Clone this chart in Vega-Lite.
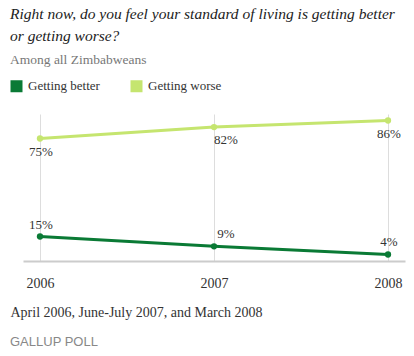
{
  "$schema": "https://vega.github.io/schema/vega-lite/v6.json",
  "padding": {"left": 10, "top": 7, "right": 9, "bottom": 5},
  "config": {"view": {"stroke": null}, "font": "Liberation Serif", "concat": {"spacing": 0}},
  "title": {"text": "GALLUP POLL", "orient": "bottom", "anchor": "start", "frame": "group", "dx": -13, "font": "Liberation Sans", "fontSize": 13, "fontWeight": "normal", "color": "#888", "offset": 17},
  "vconcat": [
    {
      "width": 382,
      "height": 147,
      "title": {
        "text": ["Right now, do you feel your standard of living is getting better", "or getting worse?"],
        "subtitle": "Among all Zimbabweans",
        "anchor": "start",
        "frame": "group",
        "dx": -13,
        "font": "Liberation Serif",
        "fontStyle": "italic",
        "fontSize": 15.5,
        "fontWeight": "normal",
        "color": "#222",
        "lineHeight": 22,
        "subtitleFont": "Liberation Serif",
        "subtitleFontSize": 13.5,
        "subtitleColor": "#777",
        "subtitlePadding": 8,
        "offset": 47.7
      },
      "data": {
        "values": [
          {"year": "2006", "series": "Getting better", "share": 0.15},
          {"year": "2007", "series": "Getting better", "share": 0.09},
          {"year": "2008", "series": "Getting better", "share": 0.04},
          {"year": "2006", "series": "Getting worse", "share": 0.75},
          {"year": "2007", "series": "Getting worse", "share": 0.82},
          {"year": "2008", "series": "Getting worse", "share": 0.86}
        ]
      },
      "encoding": {
        "x": {
          "field": "year",
          "type": "ordinal",
          "scale": {"type": "point", "padding": 0.0977},
          "axis": {
            "title": "April 2006, June-July 2007, and March 2008",
            "titleAnchor": "start",
            "titleAlign": "left",
            "titleBaseline": "alphabetic",
            "titleX": -13,
            "titleY": 55,
            "titleFont": "Liberation Serif",
            "titleFontSize": 14,
            "titleFontWeight": "normal",
            "titleColor": "#333",
            "labelAngle": 0,
            "labelFont": "Liberation Serif",
            "labelFontSize": 14,
            "labelColor": "#333",
            "labelPadding": 15,
            "ticks": false,
            "domainColor": "#ccc",
            "domainWidth": 2,
            "grid": true,
            "gridColor": "#ddd"
          }
        },
        "y": {
          "field": "share",
          "type": "quantitative",
          "scale": {"domain": [0, 0.9], "nice": false},
          "axis": null
        }
      },
      "layer": [
        {
          "mark": {"type": "line", "strokeWidth": 3},
          "encoding": {
            "color": {
              "field": "series",
              "type": "nominal",
              "scale": {"domain": ["Getting better", "Getting worse"], "range": ["#0a7a35", "#c5e56f"]},
              "legend": {
                "title": null,
                "orient": "none",
                "legendX": -13,
                "legendY": -34.5,
                "direction": "horizontal",
                "symbolType": "square",
                "symbolSize": 144,
                "symbolStrokeWidth": 0,
                "labelFont": "Liberation Serif",
                "labelFontSize": 13,
                "labelColor": "#333",
                "labelOffset": 5,
                "columnPadding": 30
              }
            }
          }
        },
        {
          "mark": {"type": "point", "filled": true, "size": 40, "opacity": 1},
          "encoding": {
            "color": {"field": "series", "type": "nominal"}
          }
        },
        {
          "mark": {
            "type": "text",
            "font": "Liberation Serif",
            "fontSize": 13,
            "baseline": "middle",
            "align": "center",
            "dy": {"expr": "datum.series == 'Getting worse' ? 13 : -12"},
            "dx": {"expr": "datum.year == '2007' ? 12 : 1"}
          },
          "encoding": {
            "text": {"field": "share", "type": "quantitative", "format": ".0%"},
            "color": {"value": "#333"}
          }
        }
      ]
    }
  ]
}
